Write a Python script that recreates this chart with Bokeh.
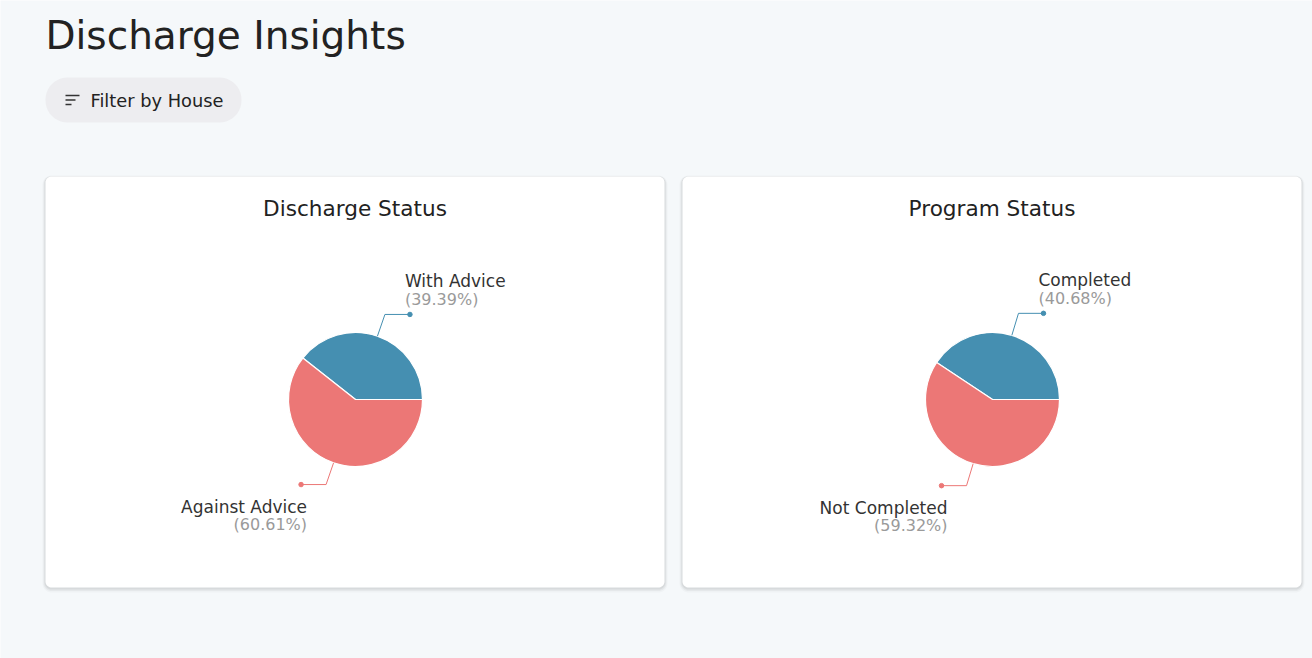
import math
from bokeh.plotting import figure
from bokeh.models import Range1d, ColumnDataSource
from bokeh.core.properties import value
from bokeh.embed import file_html
from bokeh.resources import INLINE

# ---------------- data ----------------
page_title = "Discharge Insights"
filter_label = "Filter by House"
chart_titles = ["Discharge Status", "Program Status"]
discharge_labels = ["With Advice", "Against Advice"]
discharge_counts = [13, 20]
program_labels = ["Completed", "Not Completed"]
program_counts = [24, 35]
slice_colors = ["#458fb1", "#ec7776"]

FONT = "DejaVu Sans"
BG = "#f5f8fa"

W, H = 1312, 658
OX, OY = 0, 0
p = figure(width=W, height=H, x_range=Range1d(OX, OX + W),
           y_range=Range1d(-(OY + H), -OY), output_backend="svg",
           toolbar_location=None, min_border=0)
p.axis.visible = False
p.grid.visible = False
p.outline_line_color = None
p.background_fill_color = BG
p.border_fill_color = BG


def rrect(x0, y0, x1, y1, r, n=10):
    xs, ys = [], []
    corners = [(x1 - r, y0 + r, -90, 0), (x1 - r, y1 - r, 0, 90),
               (x0 + r, y1 - r, 90, 180), (x0 + r, y0 + r, 180, 270)]
    for cx, cy, a0, a1 in corners:
        for i in range(n + 1):
            a = math.radians(a0 + (a1 - a0) * i / n)
            xs.append(cx + r * math.cos(a))
            ys.append(-(cy + r * math.sin(a)))
    return xs, ys


# ---------------- header ----------------
p.text(x=[45], y=[-35], text=[page_title], text_font=value(FONT),
       text_font_size="39px", text_color="#222222", text_baseline="middle")

bx, by = rrect(45, 77, 241, 122, 22)
p.patch(bx, by, fill_color="#ededf0", line_color=None)
for y, x1 in [(95, 79), (99.5, 75), (104, 71)]:
    p.line([65, x1], [-y, -y], line_color="#333333", line_width=1.6)
p.text(x=[90], y=[-100], text=[filter_label], text_font=value(FONT),
       text_font_size="17.8px", text_color="#222222", text_baseline="middle")

# ---------------- cards ----------------
cards = [(45, 176, 664, 587), (682, 176, 1301, 587)]
for (x0, y0, x1, y1) in cards:
    for grow, dy, a in [(3, 2, 0.025), (2, 1.5, 0.04), (1, 1, 0.06)]:
        sx, sy = rrect(x0 - grow, y0 - grow + dy, x1 + grow, y1 + grow + dy, 6 + grow)
        p.patch(sx, sy, fill_color="#000000", fill_alpha=a, line_color=None)
    cx_, cy_ = rrect(x0, y0, x1, y1, 6)
    p.patch(cx_, cy_, fill_color="#ffffff", line_color=None)

datasets = [(discharge_labels, discharge_counts), (program_labels, program_counts)]
R = 67
for (x0, y0, x1, y1), title, (labels, counts) in zip(cards, chart_titles, datasets):
    ccx = (x0 + x1) / 2
    p.text(x=[ccx], y=[-208], text=[title], text_font=value(FONT),
           text_font_size="21.6px", text_color="#222222", text_align="center",
           text_baseline="middle")
    pcx, pcy = ccx + 0.5, 399
    total = sum(counts)
    fr = [c / total for c in counts]
    starts, ends, cum = [], [], 0.0
    for f in fr:
        starts.append(cum * 2 * math.pi)
        cum += f
        ends.append(cum * 2 * math.pi)
    src = ColumnDataSource(dict(start=starts, end=ends, color=slice_colors[:len(counts)]))
    p.wedge(x=pcx, y=-pcy, radius=R, start_angle="start", end_angle="end",
            fill_color="color", line_color="#ffffff", line_width=1.2, source=src)
    for lab, f, s, e, col in zip(labels, fr, starts, ends, slice_colors):
        m = (s + e) / 2
        ax, ay = pcx + R * math.cos(m), pcy - R * math.sin(m)
        bx2, by2 = pcx + 90 * math.cos(m), pcy - 90 * math.sin(m)
        right = math.cos(m) >= 0
        dx = bx2 + (25 if right else -25)
        p.line([ax, bx2, dx], [-ay, -by2, -by2], line_color=col, line_width=1)
        p.scatter([dx], [-by2], size=4.5, fill_color=col, line_color=col)
        if right:
            tx, align = dx - 5, "left"
        else:
            tx, align = dx + 6, "right"
        if math.sin(m) > 0:
            ly, py = by2 - 33, by2 - 15
        else:
            ly, py = by2 + 22, by2 + 40
        p.text(x=[tx], y=[-ly], text=[lab], text_font=value(FONT),
               text_font_size="17px", text_color="#333333", text_align=align,
               text_baseline="middle")
        p.text(x=[tx], y=[-py], text=["(%.2f%%)" % (f * 100)], text_font=value(FONT),
               text_font_size="16px", text_color="#9a9a9a", text_align=align,
               text_baseline="middle")

open("out.html", "w").write(file_html(p, INLINE))
